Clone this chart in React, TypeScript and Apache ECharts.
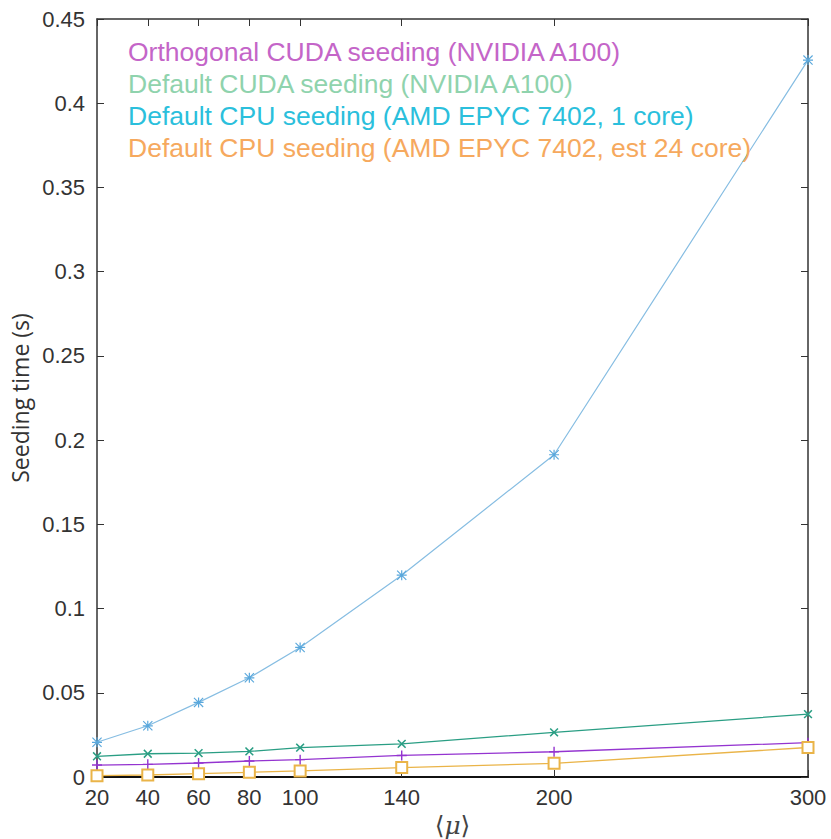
import React, { useEffect, useRef } from "react";
import * as echarts from "echarts";

const xValues = [20, 40, 60, 80, 100, 140, 200, 300];
const xTickLabels = [20, 40, 60, 80, 100, 140, 200, 300];
const orthogonalCuda = [0.0071, 0.0075, 0.0083, 0.0095, 0.0103, 0.0128, 0.015, 0.0204];
const defaultCuda = [0.0123, 0.0138, 0.0142, 0.0152, 0.0174, 0.0197, 0.0265, 0.0373];
const cpuOneCore = [0.0206, 0.0304, 0.0443, 0.0589, 0.0769, 0.1198, 0.1913, 0.4256];
const cpu24Core = [0.0008, 0.0012, 0.002, 0.0028, 0.0036, 0.0056, 0.0081, 0.0175];

const seriesNames = [
  "Orthogonal CUDA seeding (NVIDIA A100)",
  "Default CUDA seeding (NVIDIA A100)",
  "Default CPU seeding (AMD EPYC 7402, 1 core)",
  "Default CPU seeding (AMD EPYC 7402, est 24 core)",
];

const PLUS = "path://M4.3,0H5.7V4.3H10V5.7H5.7V10H4.3V5.7H0V4.3H4.3Z";
const STAR =
  "path://M4.4,0H5.6V4.4H10V5.6H5.6V10H4.4V5.6H0V4.4H4.4Z M0.8,0L10,9.2L9.2,10L0,0.8Z M9.2,0L10,0.8L0.8,10L0,9.2Z";

function pairs(ys: number[]) {
  return xValues.map((x, i) => [x, ys[i]]);
}

export default function App() {
  const ref = useRef<HTMLDivElement>(null);
  useEffect(() => {
    if (!ref.current) return;
    const chart = echarts.init(ref.current, undefined, { renderer: "svg" });
    const axisColor = "#333";
    const labelFont = "'Liberation Sans', Arial, sans-serif";
    chart.setOption({
      animation: false,
      backgroundColor: "#ffffff",
      grid: { left: 97, right: 23, top: 19, bottom: 62, containLabel: false, outerBoundsMode: "none" },
      legend: {
        orient: "vertical",
        left: 118,
        top: 33,
        icon: "none",
        itemWidth: 0,
        itemHeight: 24,
        itemGap: 5,
        selectedMode: false,
        textStyle: { fontSize: 26.5, fontFamily: labelFont, lineHeight: 24, height: 24 },
        data: [
          { name: seriesNames[0], textStyle: { color: "#c465c8" } },
          { name: seriesNames[1], textStyle: { color: "#8fd3ad" } },
          { name: seriesNames[2], textStyle: { color: "#2bbfdc" } },
          { name: seriesNames[3], textStyle: { color: "#f6a95e" } },
        ],
      },
      xAxis: [
        {
          type: "value",
          min: 20,
          max: 300,
          position: "bottom",
          name: "{a|⟨}{m|μ}{a|⟩}",
          nameLocation: "middle",
          nameGap: 34,
          nameTextStyle: {
            rich: {
              a: { fontFamily: "'DejaVu Serif', serif", fontSize: 25, color: "#444" },
              m: { fontFamily: "'DejaVu Serif', serif", fontStyle: "italic", fontSize: 25, color: "#444" },
            },
          },
          splitLine: { show: false },
          axisLine: { show: true, onZero: false, lineStyle: { color: "#111", width: 2 } },
          axisTick: { show: true, inside: true, length: 7, customValues: xTickLabels, lineStyle: { color: axisColor } },
          axisLabel: {
            customValues: xTickLabels,
            fontSize: 22,
            fontFamily: labelFont,
            color: "#333",
            margin: 9,
          },
        },
        {
          type: "value",
          min: 20,
          max: 300,
          position: "top",
          splitLine: { show: false },
          axisLine: { show: true, onZero: false, lineStyle: { color: axisColor, width: 1.5 } },
          axisTick: { show: true, inside: true, length: 7, customValues: xTickLabels, lineStyle: { color: axisColor } },
          axisLabel: { show: false },
        },
      ],
      yAxis: [
        {
          type: "value",
          min: 0,
          max: 0.45,
          interval: 0.05,
          position: "left",
          name: "Seeding time (s)",
          nameLocation: "middle",
          nameRotate: 90,
          nameGap: 64,
          nameTextStyle: { fontSize: 23, fontFamily: "'Open Sans', sans-serif", color: "#333" },
          splitLine: { show: false },
          axisLine: { show: true, onZero: false, lineStyle: { color: axisColor, width: 1.5 } },
          axisTick: { show: true, inside: true, length: 7, lineStyle: { color: axisColor } },
          axisLabel: { fontSize: 22, fontFamily: labelFont, color: "#333", margin: 12 },
        },
        {
          type: "value",
          min: 0,
          max: 0.45,
          interval: 0.05,
          position: "right",
          splitLine: { show: false },
          axisLine: { show: true, onZero: false, lineStyle: { color: axisColor, width: 1.5 } },
          axisTick: { show: true, inside: true, length: 7, lineStyle: { color: axisColor } },
          axisLabel: { show: false },
        },
      ],
      series: [
        {
          name: seriesNames[0],
          type: "line",
          data: pairs(orthogonalCuda),
          symbol: PLUS,
          symbolSize: 10,
          color: "#9434d0",
          lineStyle: { color: "#9434d0", width: 1.3 },
          itemStyle: { color: "#9434d0" },
        },
        {
          name: seriesNames[1],
          type: "line",
          data: pairs(defaultCuda),
          symbol: PLUS,
          symbolRotate: 45,
          symbolSize: 11,
          color: "#2a9e84",
          lineStyle: { color: "#2a9e84", width: 1.3 },
          itemStyle: { color: "#2a9e84" },
        },
        {
          name: seriesNames[2],
          type: "line",
          data: pairs(cpuOneCore),
          symbol: STAR,
          symbolSize: 10,
          color: "#74b4df",
          lineStyle: { color: "#86bde2", width: 1.2 },
          itemStyle: { color: "#5aa8dc" },
        },
        {
          name: seriesNames[3],
          type: "line",
          data: pairs(cpu24Core),
          symbol: "emptyRect",
          symbolSize: 11,
          color: "#eab448",
          lineStyle: { color: "#eab448", width: 1.3 },
          itemStyle: { color: "#eab448", borderWidth: 1.3 },
        },
      ],
    });
    return () => chart.dispose();
  }, []);
  return (
    <div
      ref={ref}
      style={{ position: "fixed", left: 0, top: 0, width: 831, height: 839, background: "#fff" }}
    />
  );
}
